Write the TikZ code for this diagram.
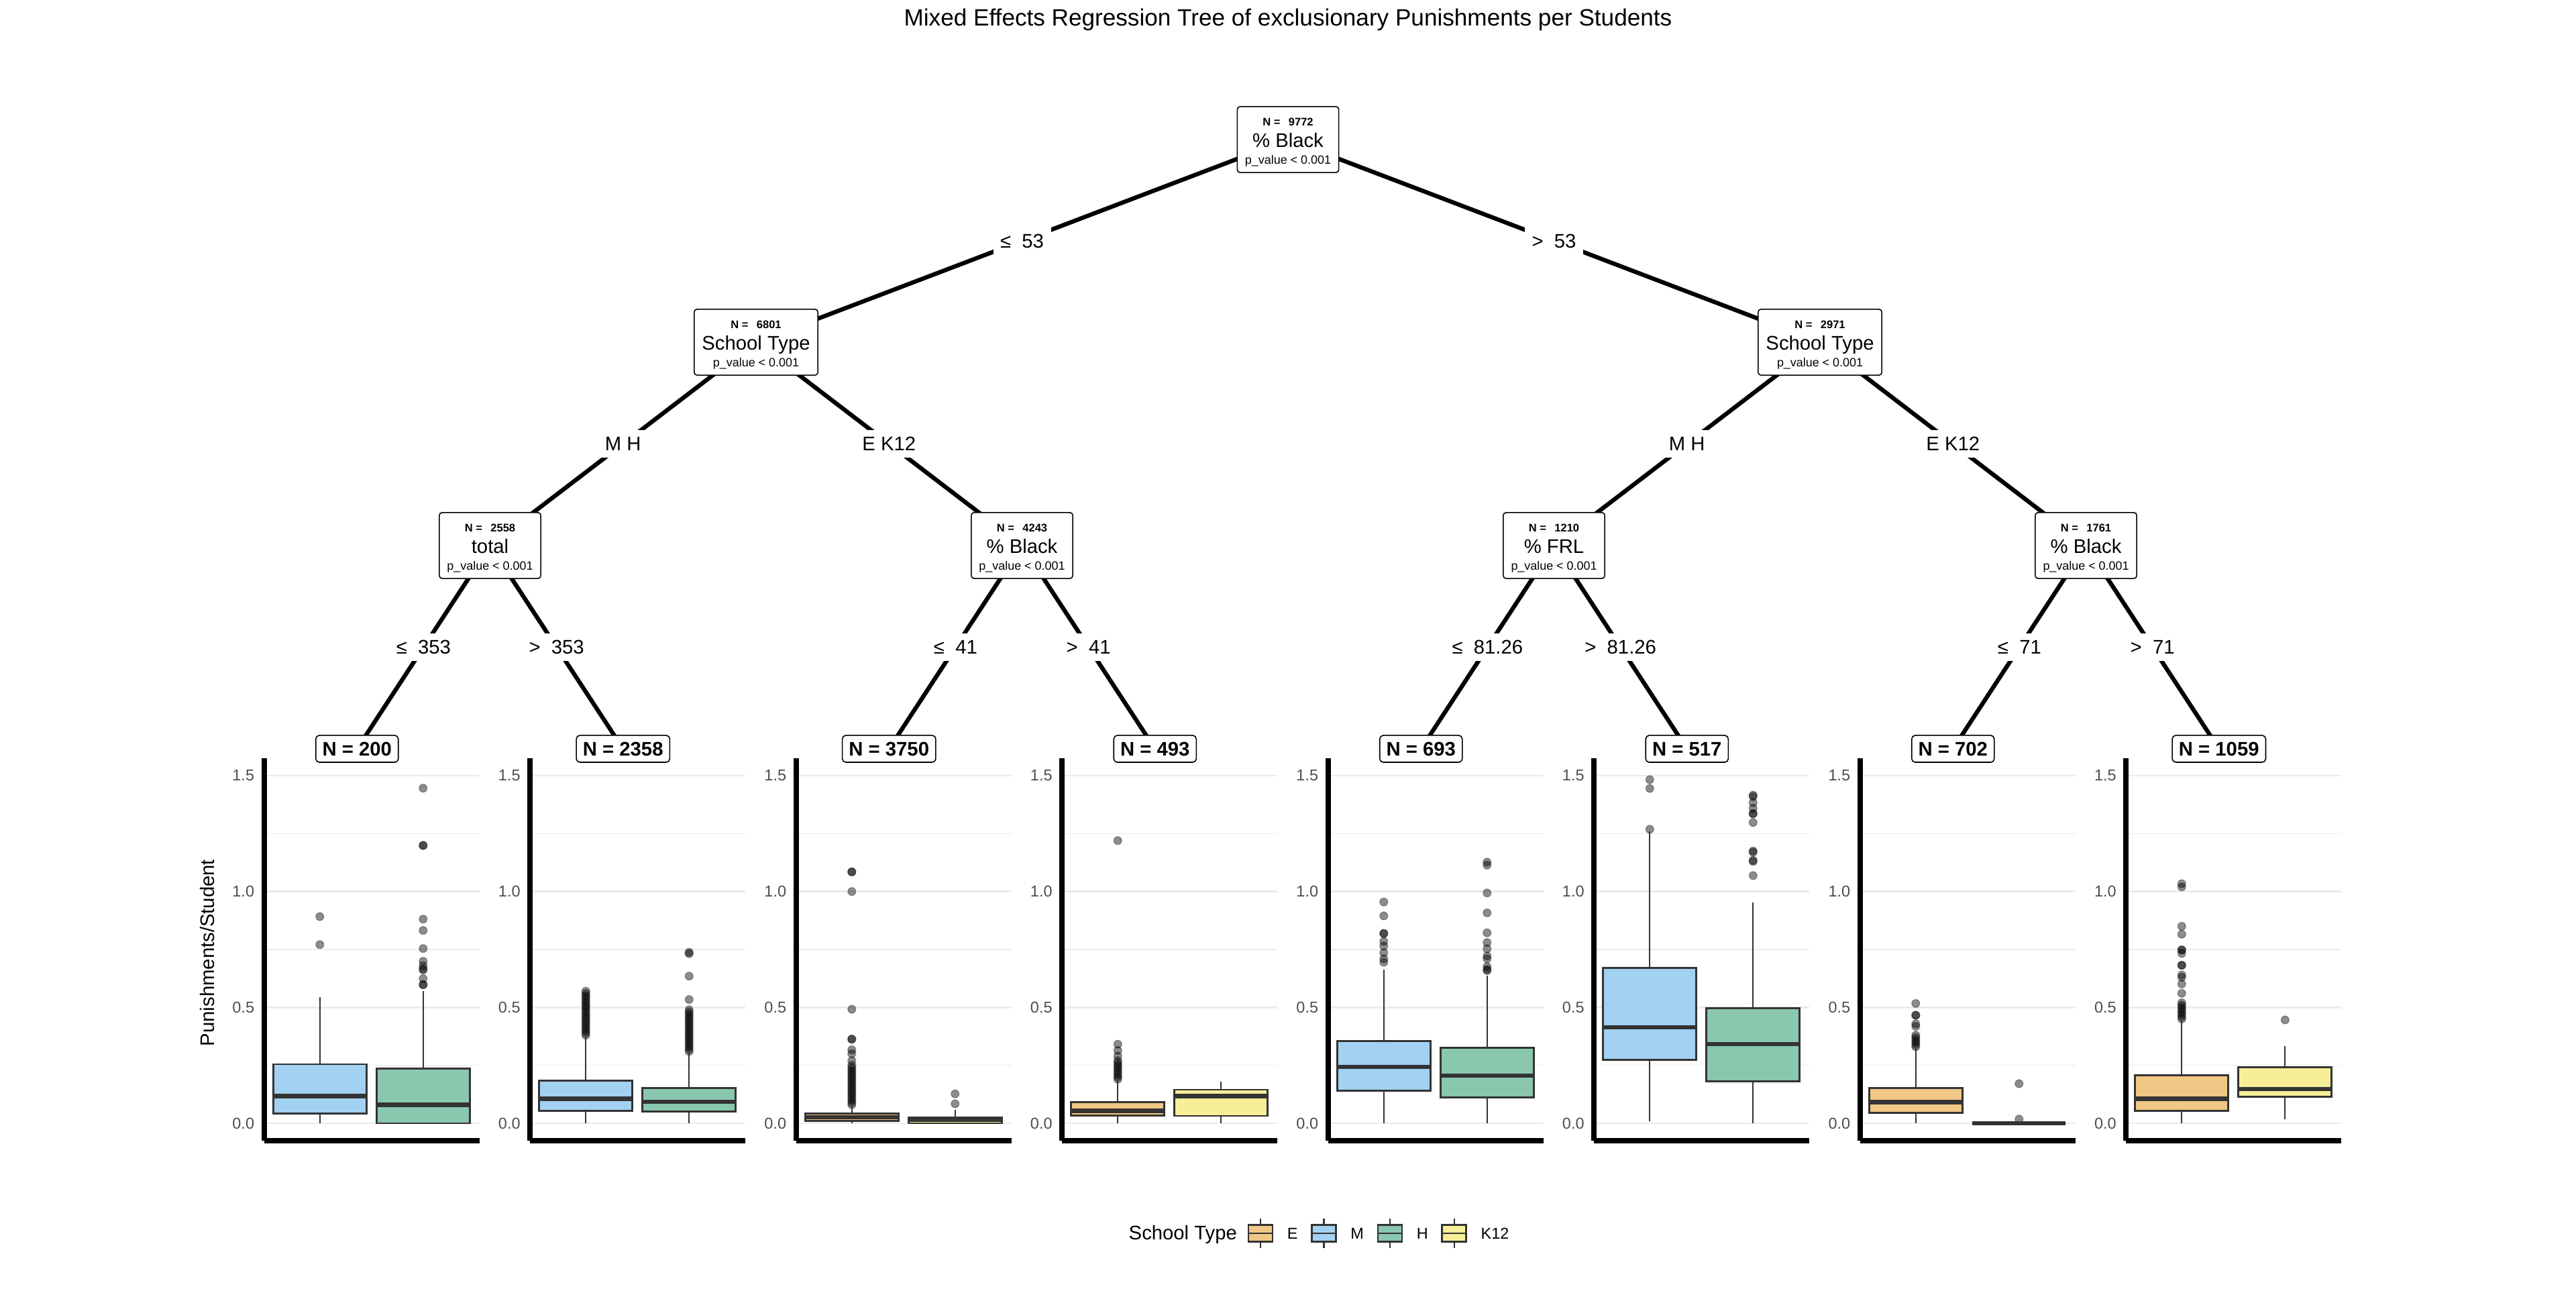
\documentclass[tikz,border=0pt]{standalone}
\usepackage{fontspec}
\setmainfont{Liberation Sans}
\usetikzlibrary{positioning}
\pgfdeclarelayer{background}
\pgfsetlayers{background,main}

\definecolor{fillE}{HTML}{F0C784}
\definecolor{fillM}{HTML}{A3D1F1}
\definecolor{fillH}{HTML}{89C7AF}
\definecolor{fillK}{HTML}{F6EF97}
\definecolor{gridgray}{HTML}{EBEBEB}
\definecolor{boxline}{HTML}{333333}
\definecolor{ticktext}{HTML}{4D4D4D}

\tikzset{
  splitnode/.style={draw, rounded corners=1.2pt, fill=white, align=center, inner xsep=3.3pt, inner ysep=2.6pt, line width=0.45pt, font=\fontsize{8.33}{9}\selectfont},
  leafnode/.style={draw, rounded corners=1.5pt, fill=white, inner xsep=2.8pt, inner ysep=2.7pt, text height=6pt, text depth=0pt, line width=0.45pt, font=\fontsize{8.33}{10}\selectfont\bfseries},
  edge/.style={line width=1.8pt},
  edgelabel/.style={fill=white, inner sep=3pt, font=\fontsize{8.33}{10}\selectfont},
  ticklabel/.style={anchor=east, inner sep=0pt, text=ticktext, font=\fontsize{6.67}{8}\selectfont},
  gridmajor/.style={gridgray, line width=0.75pt},
  gridminor/.style={gridgray, line width=0.45pt},
  axisline/.style={line width=2.2pt},
  whisker/.style={boxline, line width=0.68pt},
  boxbody/.style={draw=boxline, line width=0.8pt},
  medianline/.style={boxline, line width=1.8pt},
  outlier/.style={fill=black, fill opacity=0.45, draw=black, draw opacity=0.3, line width=0.35pt},
  legendkey/.style={draw=boxline, line width=0.7pt, minimum width=0.36cm, minimum height=0.25cm, inner sep=0pt},
  legendtext/.style={inner sep=0pt, font=\fontsize{6.67}{8}\selectfont},
}

% text of an inner node: N, split variable, p value
\newcommand{\splittext}[2]{\rule{0pt}{5.6pt}{\fontsize{4.7}{5}\selectfont\bfseries N =\hspace{0.75em}#1}\\#2\\[-1.9pt]{\fontsize{5.1}{6}\selectfont p\_value < 0.001}}

% grid, tick labels and axes of one panel
\newcommand{\panelgrid}{%
  \foreach \g in {0.25,0.75,1.25} \draw[gridminor] (0,\g) -- (3.21,\g);
  \foreach \g in {0,0.5,1,1.5} \draw[gridmajor] (0,\g) -- (3.21,\g);
  \foreach \g/\t in {0/0.0,0.5/0.5,1/1.0,1.5/1.5} \node[ticklabel] at (-0.14,\g) {\t};
  \draw[axisline] (0,1.575) -- (0,-0.075) (0,-0.075) -- (3.21,-0.075);
}
% x, colour, lower whisker, q1, median, q3, upper whisker
\newcommand{\boxwhisker}[7]{%
  \draw[whisker] (#1,#3) -- (#1,#4) (#1,#6) -- (#1,#7);
  \filldraw[boxbody, fill=#2] (#1-0.695,#4) rectangle (#1+0.695,#6);
  \draw[medianline] (#1-0.695,#5) -- (#1+0.695,#5);
}
\newcommand{\outliers}[2]{\foreach \v in {#2} \filldraw[outlier] (#1,\v) circle[radius=1.7pt];}

\begin{document}
\begin{tikzpicture}
\useasboundingbox (0,0) rectangle (38.4,19.2);
\begin{pgfonlayer}{background}
  \fill[white] (0,0) rectangle (38.4,19.2);
\end{pgfonlayer}

\node[font=\fontsize{10}{12}\selectfont] (title) at (19.2,18.91) {Mixed Effects Regression Tree of exclusionary Punishments per Students};

% tree
\node[splitnode] (n1) at (19.2,17.12) {\splittext{9772}{\% Black}};
\node[splitnode] (n2) at (11.27,14.10) {\splittext{6801}{School Type}};
\node[splitnode] (n9) at (27.13,14.10) {\splittext{2971}{School Type}};
\node[splitnode] (n3) at (7.305,11.07) {\splittext{2558}{total}};
\node[splitnode] (n6) at (15.235,11.07) {\splittext{4243}{\% Black}};
\node[splitnode] (n10) at (23.165,11.07) {\splittext{1210}{\% FRL}};
\node[splitnode] (n13) at (31.095,11.07) {\splittext{1761}{\% Black}};

\node[leafnode] (n4) at (5.3225,8.04) {N = 200};
\node[leafnode] (n5) at (9.2875,8.04) {N = 2358};
\node[leafnode] (n7) at (13.2525,8.04) {N = 3750};
\node[leafnode] (n8) at (17.2175,8.04) {N = 493};
\node[leafnode] (n11) at (21.1825,8.04) {N = 693};
\node[leafnode] (n12) at (25.1475,8.04) {N = 517};
\node[leafnode] (n14) at (29.1125,8.04) {N = 702};
\node[leafnode] (n15) at (33.0775,8.04) {N = 1059};

\begin{pgfonlayer}{background}
  \draw[edge] (n1.center) -- node[edgelabel] (e2) {≤\ \ 53} (n2.center);
  \draw[edge] (n1.center) -- node[edgelabel] (e9) {>\ \ 53} (n9.center);
  \draw[edge] (n2.center) -- node[edgelabel] (e3) {M H} (n3.center);
  \draw[edge] (n2.center) -- node[edgelabel] (e6) {E K12} (n6.center);
  \draw[edge] (n9.center) -- node[edgelabel] (e10) {M H} (n10.center);
  \draw[edge] (n9.center) -- node[edgelabel] (e13) {E K12} (n13.center);
  \draw[edge] (n3.center) -- node[edgelabel] (e4) {≤\ \ 353} (n4.center);
  \draw[edge] (n3.center) -- node[edgelabel] (e5) {>\ \ 353} (n5.center);
  \draw[edge] (n6.center) -- node[edgelabel] (e7) {≤\ \ 41} (n7.center);
  \draw[edge] (n6.center) -- node[edgelabel] (e8) {>\ \ 41} (n8.center);
  \draw[edge] (n10.center) -- node[edgelabel] (e11) {≤\ \ 81.26} (n11.center);
  \draw[edge] (n10.center) -- node[edgelabel] (e12) {>\ \ 81.26} (n12.center);
  \draw[edge] (n13.center) -- node[edgelabel] (e14) {≤\ \ 71} (n14.center);
  \draw[edge] (n13.center) -- node[edgelabel] (e15) {>\ \ 71} (n15.center);
\end{pgfonlayer}

% boxplot panels
\begin{scope}[shift={(3.9375,2.46)}, y=3.453cm]
  \panelgrid
  \outliers{0.83}{0.892,0.771}
  \boxwhisker{0.83}{fillM}{0}{0.043}{0.117}{0.255}{0.544}
  \outliers{2.37}{1.446,1.199,1.199,0.881,0.832,0.754,0.699,0.680,0.667,0.661,0.624,0.598,0.598}
  \boxwhisker{2.37}{fillH}{0}{0}{0.080}{0.236}{0.570}
\end{scope}
\begin{scope}[shift={(7.9025,2.46)}, y=3.453cm]
  \panelgrid
  \outliers{0.83}{0.38,0.39,...,0.57}
  \boxwhisker{0.83}{fillM}{0}{0.054}{0.106}{0.185}{0.375}
  \outliers{2.37}{0.31,0.32,...,0.50,0.534,0.635,0.732,0.738}
  \boxwhisker{2.37}{fillH}{0}{0.051}{0.093}{0.153}{0.304}
\end{scope}
\begin{scope}[shift={(11.8675,2.46)}, y=3.453cm]
  \panelgrid
  \outliers{0.83}{0.08,0.09,...,0.25,0.27,0.30,0.317,0.363,0.363,0.492,1.0,1.085,1.085}
  \boxwhisker{0.83}{fillE}{0}{0.009}{0.026}{0.041}{0.075}
  \outliers{2.37}{0.084,0.127}
  \boxwhisker{2.37}{fillK}{0}{0}{0.016}{0.026}{0.058}
\end{scope}
\begin{scope}[shift={(15.8325,2.46)}, y=3.453cm]
  \panelgrid
  \outliers{0.83}{0.19,0.20,...,0.27,0.29,0.314,0.341,1.22}
  \boxwhisker{0.83}{fillE}{0}{0.033}{0.054}{0.091}{0.182}
  \boxwhisker{2.37}{fillK}{0}{0.032}{0.117}{0.145}{0.18}
\end{scope}
\begin{scope}[shift={(19.7975,2.46)}, y=3.453cm]
  \panelgrid
  \outliers{0.83}{0.955,0.895,0.819,0.819,0.785,0.765,0.736,0.71,0.695}
  \boxwhisker{0.83}{fillM}{0}{0.141}{0.244}{0.355}{0.662}
  \outliers{2.37}{1.127,1.114,0.994,0.908,0.822,0.780,0.753,0.722,0.71,0.676,0.664,0.659}
  \boxwhisker{2.37}{fillH}{0}{0.111}{0.205}{0.326}{0.638}
\end{scope}
\begin{scope}[shift={(23.7625,2.46)}, y=3.453cm]
  \panelgrid
  \outliers{0.83}{1.483,1.445,1.269}
  \boxwhisker{0.83}{fillM}{0.010}{0.274}{0.415}{0.670}{1.261}
  \outliers{2.37}{1.416,1.41,1.384,1.359,1.336,1.336,1.298,1.175,1.17,1.135,1.13,1.069}
  \boxwhisker{2.37}{fillH}{0}{0.180}{0.342}{0.496}{0.954}
\end{scope}
\begin{scope}[shift={(27.7275,2.46)}, y=3.453cm]
  \panelgrid
  \outliers{0.83}{0.33,0.34,...,0.38,0.418,0.429,0.466,0.466,0.517}
  \boxwhisker{0.83}{fillE}{0}{0.045}{0.091}{0.151}{0.326}
  \outliers{2.37}{0.171,0.018}
  \boxwhisker{2.37}{fillK}{0}{0}{0}{0}{0}
\end{scope}
\begin{scope}[shift={(31.6925,2.46)}, y=3.453cm]
  \panelgrid
  \outliers{0.83}{0.45,0.46,...,0.53,0.561,0.601,0.63,0.64,0.682,0.682,0.733,0.748,0.748,0.816,0.850,1.02,1.034}
  \boxwhisker{0.83}{fillE}{0}{0.053}{0.106}{0.208}{0.443}
  \outliers{2.37}{0.446}
  \boxwhisker{2.37}{fillK}{0.018}{0.114}{0.148}{0.242}{0.334}
\end{scope}

\node[rotate=90, font=\fontsize{8.33}{10}\selectfont] (ylab) at (3.09,5.0) {Punishments/Student};

% legend
\node[anchor=base west, inner sep=0pt, font=\fontsize{8.33}{10}\selectfont] (legtitle) at (16.82,0.725) {School Type};
\node[legendkey, fill=fillE] (keyE) at (18.79,0.82) {};
\node[legendtext, right=0.2cm of keyE] (labE) {E};
\node[legendkey, fill=fillM, right=0.19cm of labE] (keyM) {};
\node[legendtext, right=0.2cm of keyM] (labM) {M};
\node[legendkey, fill=fillH, right=0.19cm of labM] (keyH) {};
\node[legendtext, right=0.2cm of keyH] (labH) {H};
\node[legendkey, fill=fillK, right=0.19cm of labH] (keyK) {};
\node[legendtext, right=0.2cm of keyK] (labK) {K12};
\foreach \k in {keyE,keyM,keyH,keyK}
  \draw[whisker] (\k.north) -- ++(0,0.08) (\k.south) -- ++(0,-0.08) (\k.west) -- (\k.east);
\end{tikzpicture}
\end{document}
